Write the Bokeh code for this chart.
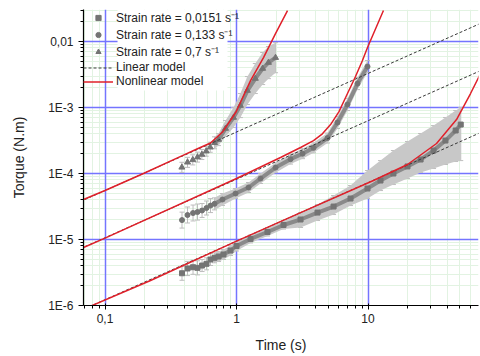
from bokeh.plotting import figure
from bokeh.models import (Range1d, CustomJSTickFormatter, FixedTicker, Legend,
                          LegendItem, BoxAnnotation, Grid)
from bokeh.embed import file_html
from bokeh.resources import INLINE

# ---------------- data ----------------
rate_labels = ["Strain rate = 0,0151 s\u207b\u00b9",
               "Strain rate = 0,133 s\u207b\u00b9",
               "Strain rate = 0,7 s\u207b\u00b9"]
model_labels = ["Linear model", "Nonlinear model"]

# strain rate 0.0151 s-1 (squares)
t_slow = [0.385, 0.424, 0.467, 0.505, 0.547, 0.591, 0.634, 0.680, 0.730, 0.796,
          0.900, 1.0, 1.278, 1.72, 2.277, 3.068, 4.13, 5.47, 7.36, 9.91,
          12.44, 15.6, 19.96, 25.1, 31.5, 38.8, 46.4, 50.7]
T_slow = [3.08e-6, 3.64e-6, 3.80e-6, 3.72e-6, 4.03e-6, 4.28e-6, 4.98e-6, 5.28e-6,
          5.52e-6, 5.93e-6, 6.81e-6, 7.97e-6, 1.02e-5, 1.30e-5, 1.66e-5, 2.01e-5,
          2.56e-5, 3.16e-5, 4.18e-5, 5.93e-5, 7.83e-5, 1.0e-4, 1.28e-4, 1.63e-4,
          2.23e-4, 3.16e-4, 4.49e-4, 5.52e-4]
lo_slow = [2.41e-6, 2.84e-6, 2.97e-6, 2.91e-6, 3.27e-6, 3.47e-6, 4.04e-6, 4.44e-6,
           4.64e-6, 4.98e-6, 5.72e-6, 6.70e-6, 8.87e-6, 1.13e-5, 1.44e-5, 1.52e-5,
           1.94e-5, 2.39e-5, 3.27e-5, 4.18e-5, 5.52e-5, 6.81e-5, 8.39e-5, 1.04e-4,
           1.19e-4, 1.37e-4, 1.52e-4, 1.57e-4]
hi_slow = [3.94e-6, 4.66e-6, 4.86e-6, 4.76e-6, 4.97e-6, 5.28e-6, 6.14e-6, 6.28e-6,
           6.57e-6, 7.06e-6, 8.10e-6, 9.48e-6, 1.17e-5, 1.50e-5, 1.91e-5, 2.56e-5,
           3.39e-5, 4.64e-5, 6.58e-5, 1.11e-4, 1.57e-4, 2.23e-4, 3.05e-4, 4.04e-4,
           5.33e-4, 7.05e-4, 9.0e-4, 1.0e-3]

# strain rate 0.133 s-1 (circles)
t_mid = [0.385, 0.424, 0.467, 0.505, 0.547, 0.591, 0.634, 0.680, 0.782, 0.983,
         1.234, 1.522, 1.980, 2.574, 3.176, 3.851, 4.92, 5.86, 6.98, 8.32, 9.91]
T_mid = [1.97e-5, 2.35e-5, 2.52e-5, 2.61e-5, 2.75e-5, 3.00e-5, 3.27e-5, 3.47e-5,
         4.04e-5, 4.98e-5, 6.14e-5, 8.4e-5, 1.23e-4, 1.65e-4, 2.0e-4, 2.45e-4,
         3.45e-4, 5.93e-4, 1.11e-3, 2.31e-3, 4.18e-3]
lo_mid = [1.49e-5, 1.78e-5, 1.91e-5, 1.97e-5, 2.16e-5, 2.35e-5, 2.56e-5, 2.81e-5,
          3.28e-5, 4.18e-5, 5.16e-5, 7.06e-5, 1.03e-4, 1.39e-4, 1.68e-4, 2.06e-4,
          2.9e-4, 4.81e-4, 9.0e-4, 1.87e-3, 3.39e-3]
hi_mid = [2.60e-5, 3.11e-5, 3.33e-5, 3.45e-5, 3.51e-5, 3.83e-5, 4.17e-5, 4.28e-5,
          4.98e-5, 5.93e-5, 7.31e-5, 1.0e-4, 1.46e-4, 1.96e-4, 2.38e-4, 2.92e-4,
          4.1e-4, 7.31e-4, 1.37e-3, 2.85e-3, 5.15e-3]

# strain rate 0.7 s-1 (triangles)
t_fast = [0.384, 0.424, 0.465, 0.505, 0.545, 0.588, 0.631, 0.680, 0.730, 0.825,
          0.949, 1.07, 1.21, 1.39, 1.58, 1.75, 1.98]
T_fast = [1.24e-4, 1.48e-4, 1.61e-4, 1.77e-4, 1.94e-4, 2.18e-4, 2.50e-4, 2.92e-4,
          3.27e-4, 4.8e-4, 7.05e-4, 1.07e-3, 1.81e-3, 2.75e-3, 3.9e-3, 4.8e-3, 5.7e-3]
lo_fast = [1.04e-4, 1.24e-4, 1.35e-4, 1.49e-4, 1.63e-4, 1.83e-4, 2.10e-4, 2.37e-4,
           2.65e-4, 3.63e-4, 4.98e-4, 7.04e-4, 1.11e-3, 1.63e-3, 2.23e-3, 2.74e-3, 3.37e-3]
hi_fast = [1.48e-4, 1.76e-4, 1.92e-4, 2.11e-4, 2.31e-4, 2.59e-4, 2.98e-4, 3.60e-4,
           4.03e-4, 6.35e-4, 9.99e-4, 1.63e-3, 2.95e-3, 4.65e-3, 6.83e-3, 8.4e-3, 9.63e-3]

# linear model (straight lines on log-log)
lin_t = [0.06, 80.0]
lin_T_slow = [7.79e-7, 4.60e-4]
lin_T_mid = [6.76e-6, 3.99e-3]
lin_T_fast = [3.51e-5, 2.077e-2]

# nonlinear model
nl_t_slow = [0.0686, 0.222, 1.0, 3.07, 11.0, 19.96, 33.2, 47.1, 60.2, 71.7]
nl_T_slow = [8.79e-7, 2.39e-6, 9.46e-6, 2.56e-5, 7.83e-5, 1.37e-4, 2.85e-4,
             6.58e-4, 1.63e-3, 3.27e-3]
nl_t_mid = [0.0686, 0.1, 1.0, 2.16, 3.07, 3.85, 4.5, 5.19, 6.0, 6.98, 8.0, 9.07, 9.91, 13.1]
nl_T_mid = [7.57e-6, 1.05e-5, 8.4e-5, 1.75e-4, 2.48e-4, 3.16e-4, 4.0e-4, 5.52e-4,
            8.6e-4, 1.63e-3, 2.9e-3, 5.15e-3, 8.11e-3, 2.95e-2]
nl_t_fast = [0.0686, 0.1, 0.196, 0.395, 0.5, 0.634, 0.782, 0.991, 1.278, 1.604,
             1.979, 2.442]
nl_T_fast = [4.04e-5, 5.52e-5, 1.0e-4, 1.9e-4, 2.35e-4, 2.9e-4, 4.25e-4, 8.55e-4,
             2.56e-3, 5.72e-3, 1.32e-2, 2.95e-2]

x_ticks = [0.1, 1, 10]
y_ticks = [1e-6, 1e-5, 1e-4, 1e-3, 1e-2]

# ---------------- figure ----------------
FONT = "Liberation Sans"
BLUE = "#7474ff"
p = figure(width=480, height=356, x_axis_type="log", y_axis_type="log",
           x_range=Range1d(0.0686, 69.2), y_range=Range1d(1e-6, 0.0306),
           output_backend="svg", toolbar_location=None,
           min_border_left=83, min_border_right=2, min_border_top=9,
           min_border_bottom=51)
p.outline_line_color = None
p.background_fill_color = "white"

xt = FixedTicker(ticks=x_ticks,
                 minor_ticks=[k * 10.0 ** e for e in (-2, -1, 0, 1) for k in range(2, 10)])
yt = FixedTicker(ticks=y_ticks,
                 minor_ticks=[k * 10.0 ** e for e in (-7, -6, -5, -4, -3, -2) for k in range(2, 10)])
p.xaxis.ticker = xt
p.yaxis.ticker = yt
p.xaxis.formatter = CustomJSTickFormatter(
    code="return String(Math.round(tick*10)/10).replace('.', ',');")
p.yaxis.formatter = CustomJSTickFormatter(
    code="const e = Math.round(Math.log10(tick)); return e == -2 ? '0,01' : '1E' + e;")

# minor grids (both directions) first, then the blue major grids on top
p.xgrid.ticker = xt
p.ygrid.ticker = yt
for g in (p.xgrid, p.ygrid):
    g.grid_line_color = None
    g.minor_grid_line_color = "#e2f3e2"
    g.minor_grid_line_width = 1
for dim, tk in ((0, xt), (1, yt)):
    p.add_layout(Grid(dimension=dim, ticker=tk, grid_line_color=BLUE,
                      grid_line_width=1.5, minor_grid_line_color=None))

p.axis.axis_line_color = "black"
p.axis.axis_line_width = 1.2
p.axis.major_tick_line_color = "black"
p.axis.minor_tick_line_color = "black"
p.yaxis.major_tick_out = 5
p.yaxis.major_tick_in = 0
p.yaxis.minor_tick_out = 3
p.yaxis.minor_tick_in = 0
p.xaxis.major_tick_out = 4
p.xaxis.major_tick_in = 2
p.xaxis.minor_tick_out = 3
p.xaxis.minor_tick_in = 0
p.axis.major_label_text_font = FONT
p.axis.major_label_text_font_size = "12px"
p.axis.major_label_text_color = "#222222"
p.yaxis.major_label_standoff = 5
p.xaxis.major_label_standoff = 4
p.xaxis.axis_label = "Time (s)"
p.yaxis.axis_label = "Torque (N.m)"
p.axis.axis_label_text_font = FONT
p.axis.axis_label_text_font_size = "14px"
p.axis.axis_label_text_font_style = "normal"
p.axis.axis_label_text_color = "#222222"
p.yaxis.axis_label_standoff = 18
p.xaxis.axis_label_standoff = 11

# white area behind the legend labels
p.add_layout(BoxAnnotation(left=0.1245, right=0.854, bottom=1.81e-3,
                           fill_color="white", fill_alpha=1.0, line_color=None,
                           level="underlay"))

DENSE_FROM = 7
series = [
    (t_slow, T_slow, lo_slow, hi_slow, "square", 5),
    (t_mid, T_mid, lo_mid, hi_mid, "circle", 5),
    (t_fast, T_fast, lo_fast, hi_fast, "triangle", 6),
]
marker_renderers = []
for t, T, lo, hi, marker, size in series:
    p.segment(x0=t, y0=lo, x1=t, y1=hi, line_color="#bdbdbd", line_width=1)
    p.scatter(t + t, lo + hi, marker="dash", size=5, line_color="#bdbdbd")
    p.varea(x=t[DENSE_FROM:], y1=lo[DENSE_FROM:], y2=hi[DENSE_FROM:],
            fill_color="#c8c8c8")
    p.line(t[DENSE_FROM:], T[DENSE_FROM:], line_width=4, line_color="#8a8a8a")
    r = p.scatter(t, T, marker=marker, size=size, fill_color="#747474",
                  line_color="#747474")
    marker_renderers.append(r)

lin_renderers = []
for lt in (lin_T_slow, lin_T_mid, lin_T_fast):
    lin_renderers.append(p.line(lin_t, lt, line_dash="3 2", line_color="#3a3a3a",
                                line_width=1))
nl_renderers = []
for nt, nT in ((nl_t_slow, nl_T_slow), (nl_t_mid, nl_T_mid), (nl_t_fast, nl_T_fast)):
    nl_renderers.append(p.line(nt, nT, line_color="#e0202a", line_width=1.5))

items = [LegendItem(label=rate_labels[i], renderers=[marker_renderers[i]]) for i in range(3)]
items.append(LegendItem(label=model_labels[0], renderers=[lin_renderers[0]]))
items.append(LegendItem(label=model_labels[1], renderers=[nl_renderers[0]]))
legend = Legend(items=items, location="top_left", margin=0, padding=3, spacing=0,
                glyph_width=30, glyph_height=13, label_height=13, label_standoff=3,
                background_fill_alpha=0, border_line_color=None,
                label_text_font=FONT, label_text_font_size="12px",
                label_text_color="#222222")
p.add_layout(legend)

open("out.html", "w").write(file_html(p, INLINE))
